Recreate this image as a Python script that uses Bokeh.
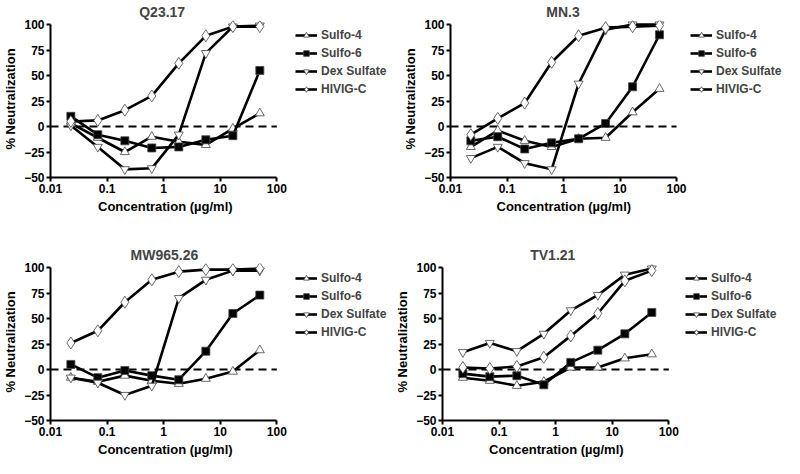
from bokeh.plotting import figure
from bokeh.models import Legend, LegendItem, FixedTicker, Range1d, Title
from bokeh.layouts import column, row
from bokeh.embed import file_html
from bokeh.resources import INLINE

# ---------------- data ----------------
concentration = [0.0229, 0.0686, 0.206, 0.617, 1.85, 5.56, 16.7, 50.0]
series_names = ["Sulfo-4", "Sulfo-6", "Dex Sulfate", "HIVIG-C"]
panel_titles = ["Q23.17", "MN.3", "MW965.26", "TV1.21"]

q23_sulfo4 = [3, -11, -25, -10, -15, -18, -2, 13]
q23_sulfo6 = [10, -8, -14, -21, -20, -13, -9, 55]
q23_dex = [1, -20, -42, -41, -8, 72, 98, 99]
q23_hivig = [5, 6, 16, 30, 62, 89, 98, 98]

mn3_sulfo4 = [-20, -4, -14, -20, -12, -11, 14, 37]
mn3_sulfo6 = [-14, -10, -22, -16, -12, 3, 39, 90]
mn3_dex = [-31, -20, -36, -42, 42, 95, 100, 100]
mn3_hivig = [-8, 8, 23, 63, 89, 97, 98, 99]

mw_sulfo4 = [-8, -12, -6, -11, -14, -9, -2, 19]
mw_sulfo6 = [5, -8, -1, -6, -10, 18, 55, 73]
mw_dex = [-8, -13, -25, -16, 70, 88, 97, 97]
mw_hivig = [26, 38, 66, 88, 96, 98, 98, 99]

tv_sulfo4 = [-8, -11, -16, -12, 2, 2, 11, 15]
tv_sulfo6 = [-4, -7, -6, -15, 7, 19, 35, 56]
tv_dex = [17, 26, 18, 35, 58, 73, 93, 99]
tv_hivig = [2, 1, 3, 12, 33, 55, 87, 97]

x_ticks = [0.01, 0.1, 1, 10, 100]
x_tick_labels = ["0.01", "0.1", "1", "10", "100"]
y_ticks = [-50, -25, 0, 25, 50, 75, 100]
zero_level = [0, 0]

x_label = "Concentration (\u00b5g/ml)"
y_label = "% Neutralization"

FONT = "Liberation Sans"

# marker styles per series: (marker, fill, size)
styles = [
    ("triangle", "white", 9),
    ("square", "black", 8),
    ("inverted_triangle", "white", 9),
    ("diamond", "white", 12),
]


def make_panel(title, data, w, h, left, top, bottom, axis_px, leg_gap):
    frame_w = w - left
    frame_h = h - top - bottom
    n_dec = 4 * frame_w / axis_px
    x_end = 10 ** (-2 + n_dec)
    p = figure(width=w, height=h, x_axis_type="log",
               x_range=Range1d(x_ticks[0], x_end),
               y_range=Range1d(y_ticks[0], 104),
               output_backend="svg", toolbar_location=None,
               min_border_left=left, min_border_right=0,
               min_border_top=top, min_border_bottom=bottom)
    p.title.text = title
    p.title.align = "left"
    p.title.offset = axis_px / 2 - len(title) * 4.3
    p.title.text_font = FONT
    p.title.text_font_size = "14px"
    p.title.text_font_style = "bold"
    p.title.standoff = 2
    p.outline_line_color = None
    p.grid.visible = False
    p.background_fill_color = "white"
    p.border_fill_color = "white"

    for ax in (p.xaxis[0], p.yaxis[0]):
        ax.axis_line_width = 2
        ax.axis_line_color = "black"
        ax.major_tick_line_width = 2
        ax.major_tick_line_color = "black"
        ax.major_tick_out = 4
        ax.major_tick_in = 0
        ax.minor_tick_line_color = None
        ax.major_label_text_font = FONT
        ax.major_label_text_font_size = "12px"
        ax.major_label_text_font_style = "bold"
        ax.major_label_text_color = "black"
        ax.axis_label_text_font = FONT
        ax.axis_label_text_font_size = "13px"
        ax.axis_label_text_font_style = "bold"
        ax.axis_label_text_color = "black"
        ax.major_label_standoff = 2
        ax.axis_label_standoff = 3

    p.xaxis.ticker = FixedTicker(ticks=x_ticks)
    p.xaxis.major_label_overrides = dict(zip(x_ticks, x_tick_labels))
    p.xaxis.bounds = (x_ticks[0], x_ticks[-1])
    p.yaxis.ticker = FixedTicker(ticks=y_ticks)
    p.yaxis.bounds = (y_ticks[0], y_ticks[-1])
    p.yaxis.axis_label = y_label

    # x-axis title, centred under the axis span (not the whole frame)
    p.add_layout(Title(text=x_label, align="left",
                       offset=axis_px / 2 - 67, standoff=3,
                       text_font=FONT, text_font_size="13px",
                       text_font_style="bold", text_color="black"), "below")

    # dashed zero reference line across the axis span
    p.line([x_ticks[0], x_ticks[-1]], zero_level, line_color="black",
           line_width=2, line_dash="8 5")

    items = []
    for name, ys, (mk, fill, sz) in zip(series_names, data, styles):
        lr = p.line(concentration, ys, line_color="black", line_width=2.6)
        sr = p.scatter(concentration, ys, marker=mk, size=sz,
                       fill_color=fill, line_color="#444444", line_width=0.8)
        items.append(LegendItem(label=name, renderers=[lr, sr]))

    legend_h = 4 * 14 + 3 * 4
    leg = Legend(items=items,
                 location=(axis_px + leg_gap, frame_h - legend_h - 8))
    leg.border_line_color = None
    leg.background_fill_alpha = 0
    leg.label_text_font = FONT
    leg.label_text_font_size = "12px"
    leg.label_text_font_style = "bold"
    leg.glyph_width = 22
    leg.glyph_height = 14
    leg.label_height = 14
    leg.spacing = 4
    leg.padding = 0
    leg.margin = 0
    leg.label_standoff = 4
    p.add_layout(leg)
    return p


W = 392
p1 = make_panel(panel_titles[0], [q23_sulfo4, q23_sulfo6, q23_dex, q23_hivig],
                W, 215, 46, 20, 38, 229, 16)
p2 = make_panel(panel_titles[1], [mn3_sulfo4, mn3_sulfo6, mn3_dex, mn3_hivig],
                W, 215, 58, 20, 38, 226, 14)
p3 = make_panel(panel_titles[2], [mw_sulfo4, mw_sulfo6, mw_dex, mw_hivig],
                W, 243, 46, 48, 38, 229, 16)
p4 = make_panel(panel_titles[3], [tv_sulfo4, tv_sulfo6, tv_dex, tv_hivig],
                W, 243, 49, 48, 38, 227, 16)

layout = column(row(p1, p2), row(p3, p4))
open("out.html", "w").write(file_html(layout, INLINE))
